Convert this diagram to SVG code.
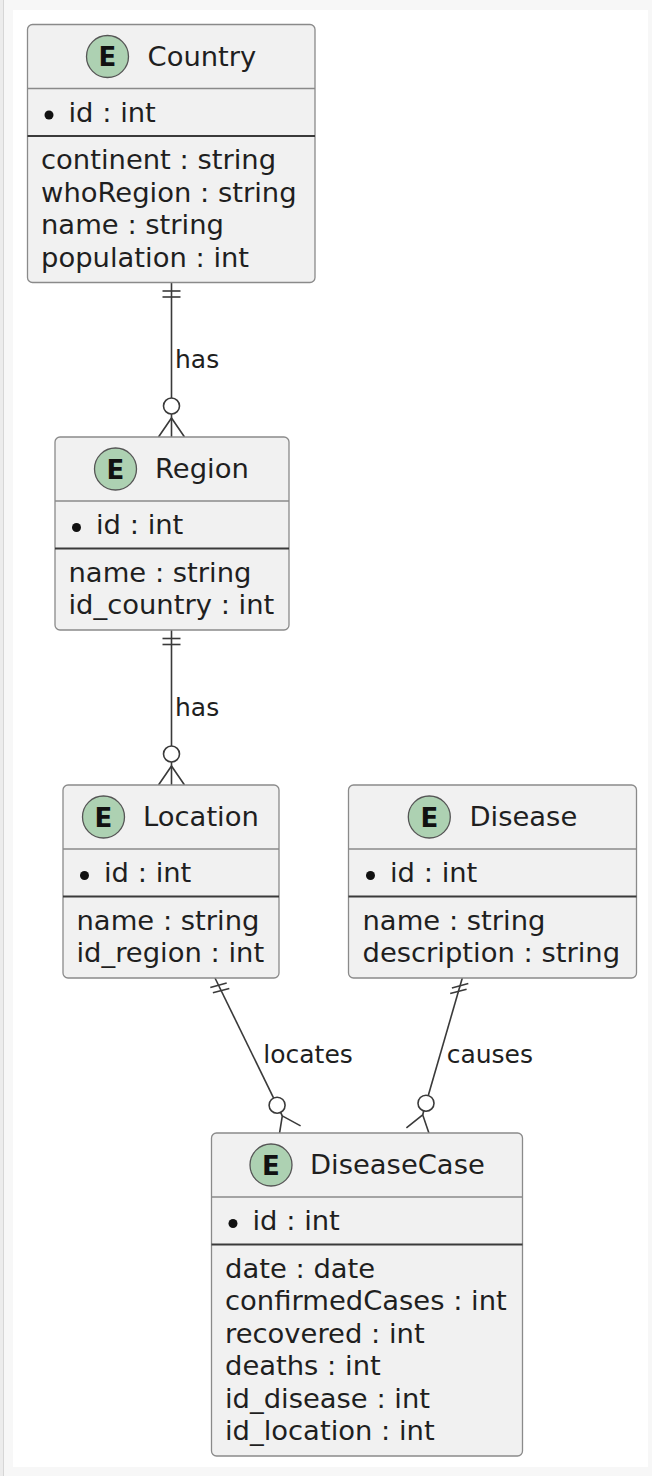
<svg xmlns="http://www.w3.org/2000/svg" width="652" height="1476" viewBox="0 0 652 1476">
<style>
.box{fill:#F1F1F1;stroke:#8a8a8a;stroke-width:1.3}
.hdr{stroke:#8a8a8a;stroke-width:1.3}
.sep{stroke:#3a3a3a;stroke-width:2}
.ecirc{fill:#ADD1B2;stroke:#555;stroke-width:1.3}
.etxt{font-family:"DejaVu Sans",sans-serif;font-size:26px;font-weight:bold;fill:#111;text-anchor:middle}
.title{font-family:"DejaVu Sans",sans-serif;font-size:27.4px;fill:#1f1f1f}
.attr{font-family:"DejaVu Sans",sans-serif;font-size:27.4px;fill:#1f1f1f}
.bul{fill:#111}
.lbl{font-family:"DejaVu Sans",sans-serif;font-size:25px;fill:#1f1f1f}
.ln{stroke:#3a3a3a;stroke-width:1.6;fill:none}
.oc{stroke:#3a3a3a;stroke-width:1.6;fill:#fff}
</style>
<rect x="0" y="0" width="652" height="1476" fill="#f7f7f7"/>
<rect x="0" y="0" width="3" height="1476" fill="#ececec"/>
<line x1="3.5" y1="0" x2="3.5" y2="1476" stroke="#d6d6d6" stroke-width="1"/>
<rect x="13" y="10" width="635" height="1457" fill="#ffffff"/>

<g id="connectors">
  <g id="country-region">
    <line class="ln" x1="171.5" y1="282.5" x2="171.5" y2="437"/>
    <line class="ln" x1="162.5" y1="291" x2="180.5" y2="291"/>
    <line class="ln" x1="162.5" y1="297" x2="180.5" y2="297"/>
    <polyline class="ln" points="158.5,437 171.5,418 184.5,437"/>
    <circle class="oc" cx="171.5" cy="406" r="8"/>
    <text class="lbl" x="175" y="368">has</text>
  </g>
  <g id="region-location">
    <line class="ln" x1="171.5" y1="630" x2="171.5" y2="785"/>
    <line class="ln" x1="162.5" y1="638.5" x2="180.5" y2="638.5"/>
    <line class="ln" x1="162.5" y1="644.5" x2="180.5" y2="644.5"/>
    <polyline class="ln" points="158.5,785 171.5,766 184.5,785"/>
    <circle class="oc" cx="171.5" cy="754" r="8"/>
    <text class="lbl" x="175" y="716">has</text>
  </g>
  <g id="location-diseasecase">
    <line class="ln" x1="215" y1="978" x2="282.3" y2="1115.9"/>
    <line class="ln" x1="210.3" y1="987.4" x2="226.7" y2="983"/>
    <line class="ln" x1="212.9" y1="992.8" x2="229.3" y2="988.4"/>
    <polyline class="ln" points="279,1136.5 282.3,1115.9 300.6,1125.9"/>
    <circle class="oc" cx="277.1" cy="1105.2" r="8"/>
    <text class="lbl" x="263.3" y="1063">locates</text>
  </g>
  <g id="disease-diseasecase">
    <line class="ln" x1="462.3" y1="978" x2="422.7" y2="1114.8"/>
    <line class="ln" x1="451.9" y1="987.9" x2="468.3" y2="983.5"/>
    <line class="ln" x1="450.2" y1="993.6" x2="466.6" y2="989.2"/>
    <polyline class="ln" points="406.4,1127.8 422.7,1114.8 429.4,1134.4"/>
    <circle class="oc" cx="426" cy="1103.2" r="8"/>
    <text class="lbl" x="446.7" y="1063">causes</text>
  </g>
</g>

<g id="Country">
  <rect class="box" x="27.5" y="24.5" width="287.5" height="258" rx="5"/>
  <circle class="ecirc" cx="107.5" cy="56.5" r="21"/>
  <text class="etxt" x="107.5" y="66">E</text>
  <text class="title" x="147.5" y="65.5">Country</text>
  <line class="hdr" x1="27.5" y1="88.5" x2="315" y2="88.5"/>
  <circle class="bul" cx="49" cy="115" r="4.5"/>
  <text class="attr" x="68.5" y="121.5">id : int</text>
  <line class="sep" x1="27.5" y1="136" x2="315" y2="136"/>
  <text class="attr" x="41" y="169">continent : string</text>
  <text class="attr" x="41" y="201.5">whoRegion : string</text>
  <text class="attr" x="41" y="234">name : string</text>
  <text class="attr" x="41" y="266.5">population : int</text>
</g>

<g id="Region">
  <rect class="box" x="55" y="437" width="234" height="193" rx="5"/>
  <circle class="ecirc" cx="115.5" cy="469" r="21"/>
  <text class="etxt" x="115.5" y="478.5">E</text>
  <text class="title" x="155" y="478">Region</text>
  <line class="hdr" x1="55" y1="501" x2="289" y2="501"/>
  <circle class="bul" cx="76.5" cy="527.5" r="4.5"/>
  <text class="attr" x="96" y="534">id : int</text>
  <line class="sep" x1="55" y1="548.5" x2="289" y2="548.5"/>
  <text class="attr" x="68.5" y="581.5">name : string</text>
  <text class="attr" x="68.5" y="614">id_country : int</text>
</g>

<g id="Location">
  <rect class="box" x="63" y="785" width="216" height="193" rx="5"/>
  <circle class="ecirc" cx="103.5" cy="817" r="21"/>
  <text class="etxt" x="103.5" y="826.5">E</text>
  <text class="title" x="143" y="826">Location</text>
  <line class="hdr" x1="63" y1="849" x2="279" y2="849"/>
  <circle class="bul" cx="84.5" cy="875.5" r="4.5"/>
  <text class="attr" x="104" y="882">id : int</text>
  <line class="sep" x1="63" y1="896.5" x2="279" y2="896.5"/>
  <text class="attr" x="76.5" y="929.5">name : string</text>
  <text class="attr" x="76.5" y="962">id_region : int</text>
</g>

<g id="Disease">
  <rect class="box" x="348.5" y="785" width="288" height="193" rx="5"/>
  <circle class="ecirc" cx="429.3" cy="817" r="21"/>
  <text class="etxt" x="429.3" y="826.5">E</text>
  <text class="title" x="469.5" y="826">Disease</text>
  <line class="hdr" x1="348.5" y1="849" x2="636.5" y2="849"/>
  <circle class="bul" cx="370.5" cy="875.5" r="4.5"/>
  <text class="attr" x="390" y="882">id : int</text>
  <line class="sep" x1="348.5" y1="896.5" x2="636.5" y2="896.5"/>
  <text class="attr" x="362.5" y="929.5">name : string</text>
  <text class="attr" x="362.5" y="962">description : string</text>
</g>

<g id="DiseaseCase">
  <rect class="box" x="211.5" y="1133" width="311" height="323" rx="5"/>
  <circle class="ecirc" cx="271" cy="1165" r="21"/>
  <text class="etxt" x="271" y="1174.5">E</text>
  <text class="title" x="310" y="1174">DiseaseCase</text>
  <line class="hdr" x1="211.5" y1="1197" x2="522.5" y2="1197"/>
  <circle class="bul" cx="233" cy="1223.5" r="4.5"/>
  <text class="attr" x="252.5" y="1230">id : int</text>
  <line class="sep" x1="211.5" y1="1244.5" x2="522.5" y2="1244.5"/>
  <text class="attr" x="225" y="1277.5">date : date</text>
  <text class="attr" x="225" y="1310">confirmedCases : int</text>
  <text class="attr" x="225" y="1342.5">recovered : int</text>
  <text class="attr" x="225" y="1375">deaths : int</text>
  <text class="attr" x="225" y="1407.5">id_disease : int</text>
  <text class="attr" x="225" y="1440">id_location : int</text>
</g>
</svg>
